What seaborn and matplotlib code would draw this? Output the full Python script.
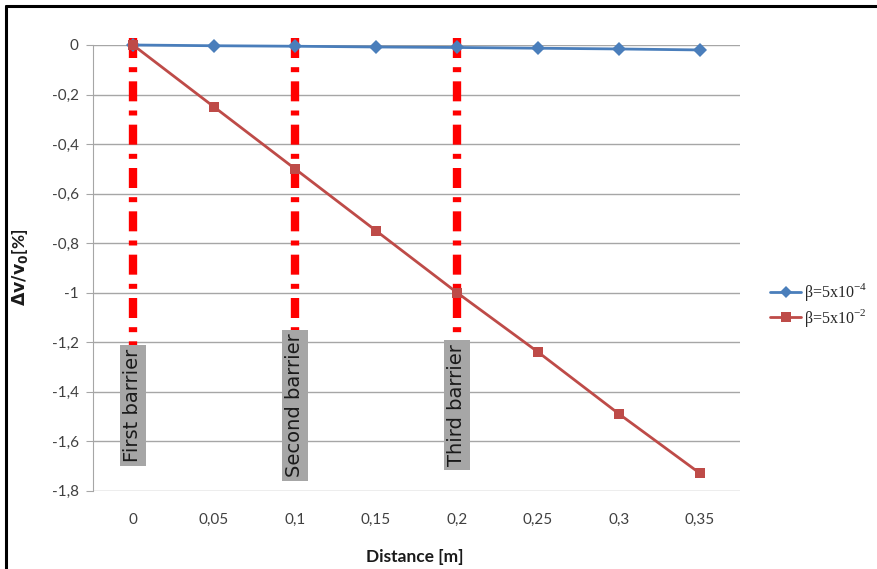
import numpy as np
import pandas as pd
import matplotlib.pyplot as plt
import matplotlib.lines as mlines
import seaborn as sns

# values
distance = [0, 0.05, 0.1, 0.15, 0.2, 0.25, 0.3, 0.35]
beta_small = [0, -0.003, -0.005, -0.008, -0.01, -0.013, -0.016, -0.02]
beta_large = [0, -0.25, -0.5, -0.75, -1.0, -1.24, -1.49, -1.73]
series_names = [r"β=5x10$^{\mathregular{-4}}$", r"β=5x10$^{\mathregular{-2}}$"]
barrier_pos = [0, 0.1, 0.2]
barrier_names = ["First barrier", "Second barrier", "Third barrier"]
y_ticks = [0, -0.2, -0.4, -0.6, -0.8, -1.0, -1.2, -1.4, -1.6, -1.8]

BLUE = "#4a7ebb"
RED = "#be4b48"

sns.set_style("white")
plt.rcParams['font.family'] = ['Lato', 'DejaVu Sans']

df = pd.DataFrame({
    "distance": distance * 2,
    "value": beta_small + beta_large,
    "series": ["small"] * len(distance) + ["large"] * len(distance),
})

fig = plt.figure(figsize=(8.78, 5.69), dpi=100)
ax = fig.add_axes([92.5 / 878, 1 - 490.7 / 569, 648 / 878, 445.7 / 569])

# barrier markers (dash-dot red lines + grey labels)
for pos, name in zip(barrier_pos, barrier_names):
    ax.plot([pos, pos], [0.03, -1.4], color="#ff0000", lw=6,
            linestyle=(0, (2.4, 1.1, 0.6, 1.1)), dash_capstyle="butt",
            solid_capstyle="butt", zorder=3, clip_on=False)
    ax.text(pos, -1.455, name, rotation=90, ha="center", va="center",
            fontsize=14, color="#1a1a1a", family=['DejaVu Sans'], zorder=4,
            bbox=dict(boxstyle="square,pad=0.2", fc="#a6a6a6", ec="none"))

sns.lineplot(data=df, x="distance", y="value", hue="series",
             palette=[BLUE, RED], style="series", markers=["D", "s"],
             dashes=False, lw=2, markersize=7, markeredgewidth=0,
             ax=ax, legend=False, zorder=5, clip_on=False)

ax.set_xlim(-0.025, 0.375)
ax.set_ylim(-1.8, 0)
ax.set_xticks(distance)
ax.set_xticklabels([f"{d:g}".replace(".", ",") for d in distance])
ax.set_yticks(y_ticks)
ax.set_yticklabels([f"{v:g}".replace(".", ",") for v in y_ticks])
ax.grid(axis="y", color="#a6a6a6", lw=1)
ax.set_axisbelow(True)
for s in ["top", "right"]:
    ax.spines[s].set_visible(False)
ax.spines["bottom"].set_visible(False)
ax.spines["left"].set_color("#a6a6a6")
ax.tick_params(axis="y", length=5, color="#a6a6a6", pad=5, labelsize=11,
               labelcolor="#404040", left=True)
ax.tick_params(axis="x", length=0, pad=16, labelsize=11, labelcolor="#404040")

ax.set_xlabel("Distance [m]", fontsize=12.5, fontweight="bold", color="#1a1a1a")
ax.set_ylabel(r"$\mathbf{\Delta v/v_0}$[%]", fontsize=12.5, fontweight="bold",
              color="#1a1a1a")
ax.xaxis.set_label_coords(0.498, -0.131)
ax.yaxis.set_label_coords(-0.096, 0.5)

handles = [
    mlines.Line2D([], [], color=BLUE, lw=2, marker="D", markersize=6, markeredgewidth=0),
    mlines.Line2D([], [], color=RED, lw=2, marker="s", markersize=7, markeredgewidth=0),
]
fig.legend(handles, series_names, loc="center left",
           bbox_to_anchor=(756 / 878, 1 - 305 / 569), frameon=False,
           handlelength=1.9, handletextpad=0.2, labelspacing=0.2,
           prop={"family": ["Liberation Serif", "DejaVu Serif"], "size": 11.5})

# black frame on the top and left of the image
fig.add_artist(mlines.Line2D([6 / 878, 1], [1 - 6 / 569, 1 - 6 / 569], color="black", lw=2.2))
fig.add_artist(mlines.Line2D([6 / 878, 6 / 878], [0, 1 - 6 / 569], color="black", lw=2.2))

fig.savefig("out.png", dpi=100)
